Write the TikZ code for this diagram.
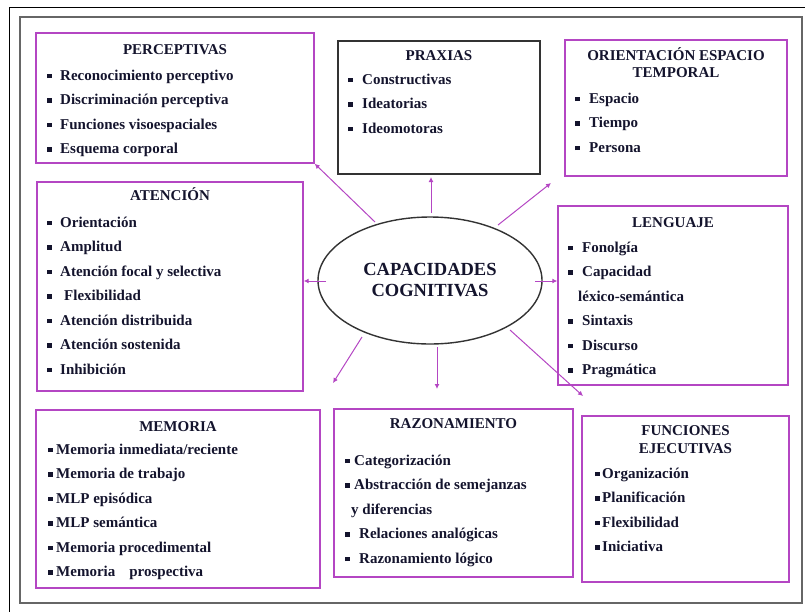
\documentclass[tikz,border=0pt]{standalone}
\usepackage{fontspec}
\setmainfont{Liberation Serif}
\usetikzlibrary{shapes.geometric,arrows.meta}
\definecolor{morado}{RGB}{180,70,195}
\definecolor{texto}{RGB}{20,20,45}
\newcommand{\punto}[1][13pt]{\makebox[#1][l]{\rule[0.12em]{0.3em}{0.3em}}}

\begin{document}
\begin{tikzpicture}[
    x=1pt, y=-1pt,
    caja/.style={rectangle, draw=morado, line width=1.4pt, inner sep=0pt},
    cajanegra/.style={caja, draw=black!80},
    titulo/.style={anchor=base, inner sep=0pt, text=texto, font=\fontsize{15}{17}\selectfont\bfseries},
    elem/.style={anchor=base west, inner sep=0pt, text=texto, font=\fontsize{15}{17}\selectfont\bfseries},
    elipse/.style={ellipse, draw=black!80, line width=1.4pt, minimum width=224pt, minimum height=127pt, inner sep=0pt, align=center, text=texto, font=\fontsize{18.5}{21}\selectfont\bfseries},
    flecha/.style={-{Latex[length=5pt,width=5pt]}, draw=morado, line width=1pt}
]
\useasboundingbox (0,0) rectangle (805,611);

% Marco
\draw[black, line width=0.8pt] (9,7) rectangle (830,640);
\draw[black!60, line width=1.8pt] (20,17) rectangle (802,603);

% Cajas
\node[caja, minimum width=278pt, minimum height=130pt] (perc) at (175,98) {};
\node[cajanegra, minimum width=202pt, minimum height=133pt] (prax) at (439,107.5) {};
\node[caja, minimum width=222pt, minimum height=136pt] (ori) at (676,108) {};
\node[caja, minimum width=266pt, minimum height=209pt] (aten) at (170,286.5) {};
\node[caja, minimum width=230pt, minimum height=179pt] (leng) at (673,295.5) {};
\node[caja, minimum width=284pt, minimum height=178pt] (mem) at (178,499) {};
\node[caja, minimum width=239pt, minimum height=168pt] (raz) at (453.5,493) {};
\node[caja, minimum width=207pt, minimum height=166pt] (func) at (685.5,499) {};

% Centro
\node[elipse] (cc) at (430,280.5) {CAPACIDADES\\COGNITIVAS};

% Titulos
\node[titulo] (perc-t) at (175,54) {PERCEPTIVAS};
\node[titulo] (prax-t) at (439,60) {PRAXIAS};
\node[titulo] (ori-t1) at (676,60) {ORIENTACIÓN ESPACIO};
\node[titulo] (ori-t2) at (676,77) {TEMPORAL};
\node[titulo] (aten-t) at (170,200) {ATENCIÓN};
\node[titulo] (leng-t) at (673,227) {LENGUAJE};
\node[titulo] (mem-t) at (178,431) {MEMORIA};
\node[titulo] (raz-t) at (453.5,428) {RAZONAMIENTO};
\node[titulo] (func-t1) at (685.5,435) {FUNCIONES};
\node[titulo] (func-t2) at (685.5,453) {EJECUTIVAS};

% Listas
\foreach \txt [count=\i from 0] in {Reconocimiento perceptivo, Discriminación perceptiva, Funciones visoespaciales, Esquema corporal}
  \node[elem] (perc-\i) at (47,80+24.5*\i) {\punto\txt};
\foreach \txt [count=\i from 0] in {Constructivas, Ideatorias, Ideomotoras}
  \node[elem] (prax-\i) at (348,84+24.5*\i) {\punto[14pt]\txt};
\foreach \txt [count=\i from 0] in {Espacio, Tiempo, Persona}
  \node[elem] (ori-\i) at (575,103+24.5*\i) {\punto[14pt]\txt};
\foreach \txt [count=\i from 0] in {\punto Orientación, \punto Amplitud, \punto Atención focal y selectiva, \punto[17pt]Flexibilidad, \punto Atención distribuida, \punto Atención sostenida, \punto Inhibición}
  \node[elem] (aten-\i) at (47,227+24.5*\i) {\txt};
\foreach \txt [count=\i from 0] in {\punto[14pt]Fonolgía, \punto[14pt]Capacidad, \hspace*{10pt}léxico-semántica, \punto[14pt]Sintaxis, \punto[14pt]Discurso, \punto[14pt]Pragmática}
  \node[elem] (leng-\i) at (568,252+24.5*\i) {\txt};
\foreach \txt [count=\i from 0] in {Memoria inmediata/reciente, Memoria de trabajo, MLP episódica, MLP semántica, Memoria procedimental, Memoria\hspace{14pt}prospectiva}
  \node[elem] (mem-\i) at (48,454+24.5*\i) {\punto[8pt]\txt};
\foreach \txt [count=\i from 0] in {\punto[9pt]Categorización, \punto[9pt]Abstracción de semejanzas, \hspace*{6pt}y diferencias, \punto[14pt]Relaciones analógicas, \punto[14pt]Razonamiento lógico}
  \node[elem] (raz-\i) at (345,465+24.5*\i) {\txt};
\foreach \txt [count=\i from 0] in {Organización, Planificación, Flexibilidad, Iniciativa}
  \node[elem] (func-\i) at (595,478+24.5*\i) {\punto[7pt]\txt};

% Flechas
\coordinate (s1) at (375,222);
\coordinate (s2) at (431,213);
\coordinate (t2) at (431,177);
\coordinate (s3) at (498,225);
\coordinate (t3) at (551,183);
\coordinate (s4) at (326,281);
\coordinate (s5) at (535,281);
\coordinate (s6) at (362,337);
\coordinate (t6) at (333,383);
\coordinate (s7) at (437,347);
\coordinate (t7) at (437,389);
\coordinate (s8) at (510,330);
\coordinate (t8) at (583,396);
\draw[flecha] (s1) -- (perc.south east);
\draw[flecha] (s2) -- (t2);
\draw[flecha] (s3) -- (t3);
\draw[flecha] (s4) -- (s4 -| aten.east);
\draw[flecha] (s5) -- (s5 -| leng.west);
\draw[flecha] (s6) -- (t6);
\draw[flecha] (s7) -- (t7);
\draw[flecha] (s8) -- (t8);

\end{tikzpicture}
\end{document}
